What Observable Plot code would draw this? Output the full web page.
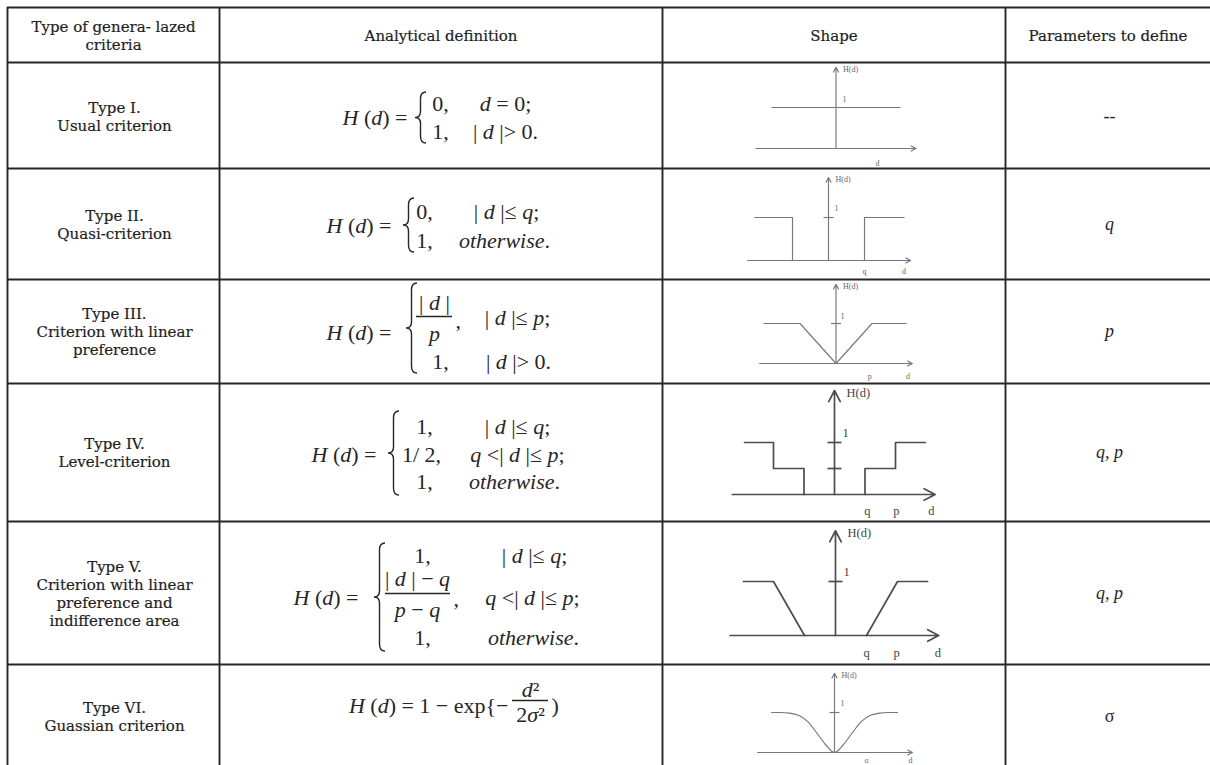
<!DOCTYPE html>
<html>
<head>
<meta charset="utf-8">
<script src="https://cdn.jsdelivr.net/npm/d3@7"></script>
<script src="https://cdn.jsdelivr.net/npm/@observablehq/plot@0.6"></script>
<style>
  body { margin: 0; background: #fff; }
  #wrap { position: relative; width: 1210px; height: 765px; overflow: hidden; background: #fff; }
  #wrap svg { position: absolute; }
</style>
</head>
<body>
<div id="wrap"></div>
<script>
// ---------------- data ----------------
const columnHeaders = ["Type of genera- lazed\ncriteria", "Analytical definition", "Shape", "Parameters to define"];
const criteriaNames = [
  "Type I.\nUsual criterion",
  "Type II.\nQuasi-criterion",
  "Type III.\nCriterion with linear\npreference",
  "Type IV.\nLevel-criterion",
  "Type V.\nCriterion with linear\npreference and\nindifference area",
  "Type VI.\nGuassian criterion"
];
const parametersToDefine = ["--", "q", "p", "q, p", "q, p", "σ"];
const formulaLeft = ["*H* (*d*) =", "*H* (*d*) =", "*H* (*d*) =", "*H* (*d*) =", "*H* (*d*) =", "*H* (*d*) = 1 − exp{−"];
const caseValues = [["0,", "1,"], ["0,", "1,"], [null, "1,"], ["1,", "1/ 2,", "1,"], ["1,", null, "1,"], []];
const caseConditions = [
  ["*d* = 0;", "| *d* |> 0."],
  ["| *d* |≤ *q*;", "*otherwise*."],
  ["| *d* |≤ *p*;", "| *d* |> 0."],
  ["| *d* |≤ *q*;", "*q* <| *d* |≤ *p*;", "*otherwise*."],
  ["| *d* |≤ *q*;", "*q* <| *d* |≤ *p*;", "*otherwise*."],
  []
];
const fractionParts = [null, null, ["| *d* |", "*p*"], null, ["| *d* | − *q*", "*p* − *q*"], ["*d*²", "2*σ*²"]];

// shape vertices (d, H), one list per polyline
const usualShape = [[[-2, 1], [2, 1]]];
const quasiShape = [[[-2.05, 1], [-1, 1], [-1, 0]], [[1, 0], [1, 1], [2.1, 1]]];
const linearShape = [[[-2, 1], [-1, 1], [0, 0], [1, 1], [1.95, 1]]];
const levelShape = [[[-2.95, 1], [-2, 1], [-2, 0.5], [-1, 0.5], [-1, 0]], [[1, 0], [1, 0.5], [2, 0.5], [2, 1], [2.98, 1]]];
const linearIndiffShape = [[[-2.97, 1], [-2, 1], [-1, 0]], [[1, 0], [2, 1], [2.97, 1]]];
const gaussianD = [-3.5, -3, -2.5, -2, -1.5, -1, -0.5, 0, 0.5, 1, 1.5, 2, 2.5, 3, 3.5];
const gaussianH = [1, 1, 0.985, 0.93, 0.78, 0.5, 0.2, 0, 0.2, 0.5, 0.78, 0.93, 0.985, 1, 1];
const gaussianShape = [gaussianD.map((d, i) => [d, gaussianH[i]])];
const shapeSegments = [usualShape, quasiShape, linearShape, levelShape, linearIndiffShape, gaussianShape];

// axis extents: [d min, d max, H top]
const axisExtent = [[-2.5, 2.5, 1.98], [-2.25, 2.28, 1.93], [-2.12, 2.12, 1.98], [-3.35, 3.3, 2], [-3.4, 3.33, 1.94], [-4.28, 4.33, 1.98]];
const axisLabels = [
  [["d", 1.3]],
  [["q", 1], ["d", 2.1]],
  [["p", 0.94], ["d", 2.0]],
  [["q", 1.08], ["p", 2.03], ["d", 3.18]],
  [["q", 1], ["p", 1.97], ["d", 3.3]],
  [["σ", 1.78], ["d", 4.22]]
];
const hTicks = [[], [1], [1], [1, 0.5], [1], [1]];

// ---------------- layout ----------------
const colX = [7, 219, 662, 1005];
const rowY = [7, 62, 168, 279, 383, 521, 664];
const rowMid = [116, 223.5, 331, 452, 592.5, 716];
const ink = "#262626";
const serif = "DejaVu Serif";
const mathFont = "Liberation Serif";
const mathSize = 22;

// formula layout per row
const fLayout = [
  {lhs: [342, 117], brace: [415, 92, 143], vals: [[440, 103], [440, 131]], conds: [[505, 103], [505, 131]]},
  {lhs: [326, 225], brace: [403, 198, 252], vals: [[424, 211], [424, 240]], conds: [[506, 211], [504, 240]]},
  {lhs: [326, 332], brace: [406, 283, 373], frac: {x: 434, num: 302, bar: 316, den: 333, x1: 416, x2: 452}, comma: [455, 320], vals: [null, [440, 361]], conds: [[517, 317], [518, 361]]},
  {lhs: [311, 454], brace: [388, 411, 495], vals: [[424, 426], [421, 454], [424, 481]], conds: [[517, 426], [517, 454], [514, 481]]},
  {lhs: [293, 597], brace: [374, 543, 651], frac: {x: 417, num: 578, bar: 593, den: 609, x1: 385, x2: 450}, comma: [453, 598], vals: [[422, 555], null, [422, 637]], conds: [[534, 555], [532, 597], [533, 637]]},
  {lhsEnd: [508, 705], frac: {x: 530, num: 689, bar: 700, den: 714, x1: 512, x2: 548}, close: [551, 705]}
];

// shape layout: axis x, px per unit, y of H=0, y of H=1, large style
const shapeLayout = [
  {cx: 835.5, u: 32, y0: 148, y1: 107, big: false, one: [8.5, -8], ldy: 15},
  {cx: 828, u: 36, y0: 260, y1: 217, big: false, one: [8, -9], ldy: 11},
  {cx: 835.5, u: 36, y0: 363, y1: 323, big: false, one: [6.5, -7], ldy: 13},
  {cx: 834, u: 30.5, y0: 494, y1: 442, big: true, one: [11, -10], ldy: 16},
  {cx: 835, u: 31, y0: 635, y1: 581, big: true, one: [11, -10], ldy: 17},
  {cx: 834, u: 18, y0: 752, y1: 712, big: false, one: [8, -9], ldy: 8}
];

// ---------------- build text records ----------------
const mathTexts = [];
const fracBars = [];
const braces = [];
fLayout.forEach((L, i) => {
  if (L.lhs) mathTexts.push({x: L.lhs[0], y: L.lhs[1], t: formulaLeft[i], a: "start"});
  if (L.lhsEnd) mathTexts.push({x: L.lhsEnd[0], y: L.lhsEnd[1], t: formulaLeft[i], a: "end"});
  if (L.close) mathTexts.push({x: L.close[0], y: L.close[1], t: ")", a: "start"});
  if (L.brace) braces.push({x: L.brace[0], y0: L.brace[1], y1: L.brace[2]});
  if (L.frac) {
    const [num, den] = fractionParts[i];
    mathTexts.push({x: L.frac.x, y: L.frac.num, t: num, a: "middle"});
    mathTexts.push({x: L.frac.x, y: L.frac.den, t: den, a: "middle"});
    fracBars.push({y: L.frac.bar, x1: L.frac.x1, x2: L.frac.x2});
  }
  if (L.comma) mathTexts.push({x: L.comma[0], y: L.comma[1], t: ",", a: "start"});
  (L.vals || []).forEach((p, k) => { if (p && caseValues[i][k]) mathTexts.push({x: p[0], y: p[1], t: caseValues[i][k], a: "middle"}); });
  (L.conds || []).forEach((p, k) => mathTexts.push({x: p[0], y: p[1], t: caseConditions[i][k], a: "middle"}));
});

const headerTexts = columnHeaders.map((t, k) => ({t, x: (colX[k] + (colX[k + 1] ?? 1210)) / 2, y: 35}));
const nameTexts = criteriaNames.map((t, i) => ({t, x: 114, y: rowMid[i]}));
const paramTexts = parametersToDefine.map((t, i) => ({t: /^[a-z, ]+$/.test(t) ? `*${t}*` : t, x: 1109, y: rowMid[i]}));

function braceMark(list) {
  return () => {
    const g = d3.create("svg:g").attr("fill", "none").attr("stroke", ink).attr("stroke-width", 1.4);
    for (const b of list) {
      const w = 11, x = b.x, xr = x + w, xm = x + w * 0.5, m = (b.y0 + b.y1) / 2;
      g.append("path").attr("d",
        `M${xr},${b.y0} Q${xm},${b.y0} ${xm},${b.y0 + 7} L${xm},${m - 6} Q${xm},${m} ${x},${m} ` +
        `Q${xm},${m} ${xm},${m + 6} L${xm},${b.y1 - 7} Q${xm},${b.y1} ${xr},${b.y1}`);
    }
    return g.node();
  };
}

function applyItalics(svg) {
  svg.querySelectorAll("text").forEach(t => {
    if (t.querySelector("tspan")) return;
    const s = t.textContent;
    if (!s.includes("*")) return;
    t.textContent = "";
    s.split("*").forEach((part, i) => {
      if (!part) return;
      const ts = document.createElementNS("http://www.w3.org/2000/svg", "tspan");
      if (i % 2 === 1) ts.setAttribute("font-style", "italic");
      ts.textContent = part;
      t.appendChild(ts);
    });
  });
}

const wrap = document.getElementById("wrap");
const textInk = "#1e1e1e";

// ---------------- table ----------------
const table = Plot.plot({
  width: 1210, height: 765, margin: 0,
  style: {background: "transparent", overflow: "visible"},
  x: {type: "identity", axis: null},
  y: {type: "identity", axis: null},
  marks: [
    Plot.ruleY(rowY, {x1: 7, x2: 1210, stroke: ink, strokeWidth: 1.9}),
    Plot.ruleX(colX, {y1: 7, y2: 765, stroke: ink, strokeWidth: 1.9}),
    Plot.text(headerTexts, {x: "x", y: "y", text: "t", fontSize: 15, fontFamily: serif, fill: textInk, stroke: textInk, strokeWidth: 0.2, lineHeight: 1.2}),
    Plot.text(nameTexts, {x: "x", y: "y", text: "t", fontSize: 15, fontFamily: serif, fill: textInk, stroke: textInk, strokeWidth: 0.2, lineHeight: 1.2}),
    Plot.text(paramTexts, {x: "x", y: "y", text: "t", fontSize: 18, fontFamily: mathFont, fill: ink}),
    Plot.text(mathTexts.filter(d => d.a === "start"), {x: "x", y: "y", text: "t", textAnchor: "start", fontSize: mathSize, fontFamily: mathFont, fill: ink}),
    Plot.text(mathTexts.filter(d => d.a === "middle"), {x: "x", y: "y", text: "t", textAnchor: "middle", fontSize: mathSize, fontFamily: mathFont, fill: ink}),
    Plot.text(mathTexts.filter(d => d.a === "end"), {x: "x", y: "y", text: "t", textAnchor: "end", fontSize: mathSize, fontFamily: mathFont, fill: ink}),
    Plot.ruleY(fracBars, {y: "y", x1: "x1", x2: "x2", stroke: ink, strokeWidth: 1.3}),
    braceMark(braces)
  ]
});
table.style.left = "0px"; table.style.top = "0px";
applyItalics(table);
wrap.append(table);

// ---------------- shape mini charts ----------------
const tickSmall = {draw(ctx) { ctx.moveTo(-5, 0); ctx.lineTo(5, 0); }};
const tickBig = {draw(ctx) { ctx.moveTo(-7, 0); ctx.lineTo(7, 0); }};

shapeSegments.forEach((segs, i) => {
  const L = shapeLayout[i];
  const top = rowY[i + 1];
  const h = (rowY[i + 2] ?? 775) - top;
  const [dMin, dMax, yTop] = axisExtent[i];
  const pts = segs.flatMap((seg, k) => seg.map(([d, H]) => ({d, H, k})));
  const col = L.big ? "#4d4d4d" : "#777";
  const lab = L.big ? "#444" : "#666";
  const sw = L.big ? 1.7 : 1.15;
  const fs = L.big ? 12.5 : 8;
  const chart = Plot.plot({
    width: 343, height: h, margin: 0,
    style: {background: "transparent", overflow: "visible"},
    x: {domain: [0, 1], range: [L.cx - 662, L.cx - 662 + L.u], axis: null},
    y: {domain: [0, 1], range: [L.y0 - top, L.y1 - top], axis: null},
    marks: [
      Plot.arrow([{x1: dMin, y1: 0, x2: dMax, y2: 0}, {x1: 0, y1: 0, x2: 0, y2: yTop}],
        {x1: "x1", y1: "y1", x2: "x2", y2: "y2", stroke: col, strokeWidth: sw, headLength: L.big ? 11 : 7, headAngle: 55}),
      Plot.line(pts, {x: "d", y: "H", z: "k", stroke: col, strokeWidth: sw, curve: i === 5 ? "monotone-x" : "linear"}),
      Plot.dot(hTicks[i], {x: 0, y: d => d, symbol: L.big ? tickBig : tickSmall, stroke: col, fill: "none", strokeWidth: sw}),
      Plot.text(["H(d)"], {x: 0, y: yTop, dx: L.big ? 12 : 7, dy: 2, textAnchor: "start", fontSize: fs, fontFamily: mathFont, fill: lab}),
      Plot.text(["1"], {x: 0, y: 1, dx: L.one[0], dy: L.one[1], fontSize: fs, fontFamily: mathFont, fill: lab}),
      Plot.text(axisLabels[i], {x: d => d[1], y: 0, text: d => d[0], dy: L.ldy, fontSize: fs, fontFamily: mathFont, fill: lab})
    ]
  });
  chart.style.left = "662px";
  chart.style.top = top + "px";
  wrap.append(chart);
});
</script>
</body>
</html>
